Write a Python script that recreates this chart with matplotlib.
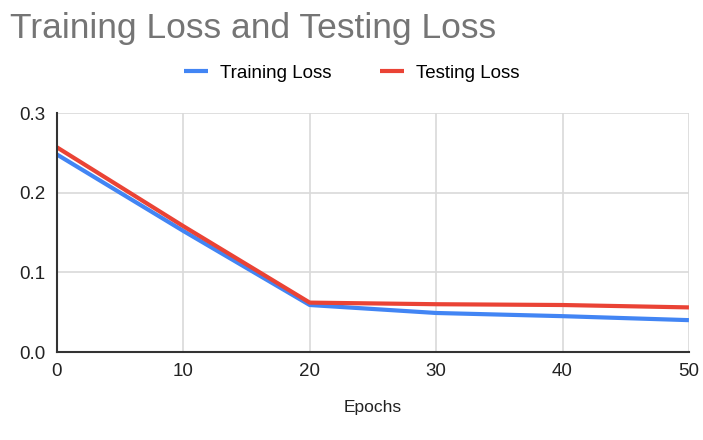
import matplotlib
matplotlib.use('Agg')
import matplotlib.pyplot as plt

plt.rcParams['font.family'] = ['Liberation Sans', 'DejaVu Sans']

# data
epochs = [0, 10, 20, 30, 40, 50]
training_loss = [0.248, 0.152, 0.059, 0.049, 0.045, 0.040]
testing_loss = [0.257, 0.158, 0.062, 0.060, 0.059, 0.056]

fig = plt.figure(figsize=(7.03, 4.4), dpi=100)
ax = fig.add_axes([0.081, 0.2, 0.899, 0.543])

ax.plot(epochs, training_loss, color='#4285f4', lw=3, label='Training Loss', solid_capstyle='butt')
ax.plot(epochs, testing_loss, color='#ea4335', lw=3, label='Testing Loss', solid_capstyle='butt')

ax.set_xlim(0, 50)
ax.set_ylim(0, 0.3)
ax.set_xticks([0, 10, 20, 30, 40, 50])
ax.set_yticks([0.0, 0.1, 0.2, 0.3])
ax.set_yticklabels(['0.0', '0.1', '0.2', '0.3'])
ax.grid(True, color='#d9d9d9', lw=1.2)
ax.set_axisbelow(True)
for s in ['top', 'right']:
    ax.spines[s].set_visible(False)
for s in ['left', 'bottom']:
    ax.spines[s].set_color('#333333')
    ax.spines[s].set_linewidth(1.5)
ax.tick_params(length=0, labelsize=13.5, colors='#222222', pad=8)

ax.set_xlabel('Epochs', fontsize=12.5, color='#222222', labelpad=14)
fig.text(0.014, 0.935, 'Training Loss and Testing Loss', fontsize=25.5, color='#757575', va='center', ha='left')
fig.legend(loc='center', bbox_to_anchor=(0.5, 0.834), ncol=2, frameon=False,
           fontsize=13.5, handlelength=1.3, columnspacing=2.6, handletextpad=0.6)

fig.savefig('out.png', dpi=100)
